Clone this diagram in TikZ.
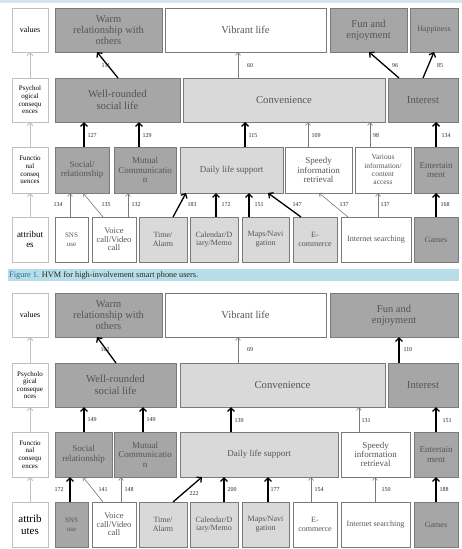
\documentclass[tikz,border=0pt]{standalone}
\usepackage{fontspec}
\setmainfont{Liberation Serif}
\usetikzlibrary{arrows.meta}
\definecolor{dkf}{HTML}{A6A6A6}
\definecolor{ltf}{HTML}{D9D9D9}
\definecolor{bdc}{HTML}{7A7A7A}
\definecolor{txc}{HTML}{555555}
\definecolor{lbc}{HTML}{C0C0C0}
\definecolor{capc}{HTML}{B7DDE8}
\definecolor{capblue}{HTML}{1F6E9A}
\definecolor{stripc}{HTML}{D3E6EC}
\newcommand\mybox[7]{\node[boxst,#6,anchor=north west,minimum width={(#4-#2)*1pt},minimum height={(#5-#3)*1pt}] (#1) at (#2,#3) {#7};}
\newcommand\conn[5]{\draw[#1] ([xshift=#3pt]#2.north west) -- ([xshift=#5pt]#4.south west);}
\newcommand\lbl[4]{\node[numst] (#1) at (#2,#3) {#4};}
\tikzset{
  boxst/.style={draw=bdc,line width=0.8pt,inner sep=1pt,outer sep=0pt,align=center,text=txc,font=\fontsize{10.5}{11}\selectfont},
  dk/.style={fill=dkf},
  lt/.style={fill=ltf},
  wh/.style={fill=white},
  side/.style={draw=lbc,fill=white,text=black},
  fa/.style={font=\fontsize{10.7}{12}\selectfont},
  fb/.style={font=\fontsize{9}{9.4}\selectfont},
  fc/.style={font=\fontsize{8}{8.8}\selectfont},
  fv/.style={font=\fontsize{8.5}{8.5}\selectfont},
  fd/.style={font=\fontsize{7.5}{8.3}\selectfont},
  fe/.style={font=\fontsize{7}{7.6}\selectfont},
  fs/.style={font=\fontsize{7}{8.5}\selectfont},
  thk/.style={black,line width=1.3pt,-{Straight Barb[length=3.5pt,width=7pt]}},
  thn/.style={bdc,line width=0.6pt,-{Straight Barb[length=3pt,width=5pt]}},
  sidear/.style={lbc,line width=0.9pt,-{Straight Barb[length=3pt,width=6pt]}},
  numst/.style={font=\fontsize{6}{7}\selectfont,text=black!85,inner sep=0pt}
}
\begin{document}
\begin{tikzpicture}[x=1pt,y=-1pt]
\useasboundingbox (0,0) rectangle (462,549);
\fill[stripc] (0,0) rectangle (462,3);
% ---------------- top panel ----------------
\mybox{Av}{12}{8}{48}{52}{side,fc}{values}
\mybox{Awarm}{55}{8}{162}{52}{dk}{Warm\\relationship with\\others}
\mybox{Avib}{165}{8}{326}{52}{wh}{Vibrant life}
\mybox{Afun}{330}{8}{407}{52}{dk}{Fun and\\enjoyment}
\mybox{Ahap}{410}{8}{458}{52}{dk,fc}{Happiness}
\mybox{Ap}{12}{78}{48}{122}{side,fe}{Psychol\\ogical\\consequ\\ences}
\mybox{Awr}{55}{78}{180}{122}{dk,fa}{Well-rounded\\social life}
\mybox{Aconv}{183}{78}{385}{122}{lt,fa}{Convenience}
\mybox{Aint}{388}{78}{458}{122}{dk,fa}{Interest}
\mybox{Af}{12}{147}{48}{193}{side,fe}{Functio\\nal\\conseq\\uences}
\mybox{Asoc}{55}{147}{109}{193}{dk,fb}{Social/\\relationship}
\mybox{Amut}{114}{147}{176}{193}{dk,fb}{Mutual\\Communicatio\\n}
\mybox{Adaily}{180}{147}{283}{193}{lt,fb}{Daily life support}
\mybox{Aspeed}{285}{147}{352}{193}{wh,fb}{Speedy\\information\\retrieval}
\mybox{Avar}{355}{147}{411}{193}{wh,fd}{Various\\information/\\content\\access}
\mybox{Aent}{414}{147}{458}{193}{dk,fb}{Entertain\\ment}
\mybox{Aa}{12}{217}{48}{262}{side,font=\fontsize{9}{10}\selectfont}{attribut\\es}
\mybox{Asns}{55}{217}{88}{262}{wh,fs}{SNS\\use}
\mybox{Avoice}{92}{217}{136}{262}{wh,fv}{Voice\\call/Video\\call}
\mybox{Atime}{139}{217}{187}{262}{lt,fc}{Time/\\Alarm}
\mybox{Acal}{190}{217}{238}{262}{lt,fc}{Calendar/D\\iary/Memo}
\mybox{Amaps}{242}{217}{289}{262}{lt,fc}{Maps/Navi\\gation}
\mybox{Aecom}{293}{217}{337}{262}{lt,fc}{E-\\commerce}
\mybox{Aint2}{341}{217}{411}{262}{wh,fc}{Internet searching}
\mybox{Agames}{414}{217}{458}{262}{dk,fc}{Games}
% side arrows
\draw[sidear] (Ap.north) -- (Av.south);
\draw[sidear] (Af.north) -- (Ap.south);
\draw[sidear] (Aa.north) -- (Af.south);
% arrows
\conn{thk}{Awr}{63}{Awarm}{42}
\conn{thn}{Aconv}{55}{Avib}{73}
\conn{thk}{Aint}{11}{Afun}{39}
\conn{thk}{Aint}{35}{Ahap}{24}
\conn{thk}{Asoc}{29}{Awr}{29}
\conn{thk}{Amut}{25}{Awr}{84}
\conn{thk}{Adaily}{65}{Aconv}{62}
\conn{thn}{Aspeed}{23}{Aconv}{125}
\conn{thn}{Avar}{15}{Aconv}{187}
\conn{thk}{Aent}{22}{Aint}{48}
\conn{thn}{Asns}{15}{Asoc}{15}
\conn{thn}{Avoice}{11}{Asoc}{28}
\conn{thn}{Avoice}{36}{Amut}{14}
\conn{thk}{Atime}{34}{Adaily}{6}
\conn{thk}{Acal}{26}{Adaily}{36}
\conn{thk}{Amaps}{7}{Adaily}{69}
\conn{thk}{Aecom}{8}{Adaily}{88}
\conn{thn}{Aint2}{7}{Aspeed}{34}
\conn{thn}{Aint2}{37}{Avar}{23}
\conn{thk}{Agames}{22}{Aent}{22}
% labels
\lbl{a1}{106}{66}{111}
\lbl{a2}{250}{66}{60}
\lbl{a3}{395}{66}{96}
\lbl{a4}{440}{66}{85}
\lbl{a5}{92}{136}{127}
\lbl{a6}{147}{136}{129}
\lbl{a7}{253}{136}{115}
\lbl{a8}{316}{136}{109}
\lbl{a9}{376}{136}{98}
\lbl{a10}{446}{136}{134}
\lbl{a11}{58}{205}{134}
\lbl{a12}{106}{205}{135}
\lbl{a13}{136}{205}{132}
\lbl{a14}{192}{205}{183}
\lbl{a15}{226}{205}{172}
\lbl{a16}{259}{205}{151}
\lbl{a17}{297}{205}{147}
\lbl{a18}{344}{205}{137}
\lbl{a19}{385}{205}{137}
\lbl{a20}{445}{205}{168}
% ---------------- caption ----------------
\fill[capc] (8,269) rectangle (459,281);
\node[anchor=west,inner sep=0pt,font=\fontsize{8.3}{9}\selectfont] (cap) at (9,275.3) {\textcolor{capblue}{Figure 1.} \textcolor{black!85}{HVM for high-involvement smart phone users.}};
% ---------------- bottom panel ----------------
\mybox{Bv}{12}{293}{48}{337}{side,fc}{values}
\mybox{Bwarm}{55}{293}{162}{337}{dk}{Warm\\relationship with\\others}
\mybox{Bvib}{165}{293}{326}{337}{wh}{Vibrant life}
\mybox{Bfun}{330}{293}{458}{337}{dk}{Fun and\\enjoyment}
\mybox{Bp}{12}{363}{48}{407}{side,fe}{Psycholo\\gical\\conseque\\nces}
\mybox{Bwr}{55}{363}{176}{407}{dk,fa}{Well-rounded\\social life}
\mybox{Bconv}{180}{363}{385}{407}{lt,fa}{Convenience}
\mybox{Bint}{388}{363}{458}{407}{dk,fa}{Interest}
\mybox{Bf}{12}{432}{48}{477}{side,fe}{Functio\\nal\\consequ\\ences}
\mybox{Bsoc}{55}{432}{112}{477}{dk,fb}{Social\\relationship}
\mybox{Bmut}{114}{432}{176}{477}{dk,fb}{Mutual\\Communicatio\\n}
\mybox{Bdaily}{180}{432}{338}{477}{lt,fb}{Daily life support}
\mybox{Bspeed}{341}{432}{410}{477}{wh,fb}{Speedy\\information\\retrieval}
\mybox{Bent}{414}{432}{458}{477}{dk,fb}{Entertain\\ment}
\mybox{Ba}{12}{502}{48}{547}{side,font=\fontsize{11}{12.5}\selectfont}{attrib\\utes}
\mybox{Bsns}{55}{502}{88}{547}{dk,fs}{SNS\\use}
\mybox{Bvoice}{92}{502}{136}{547}{wh,fv}{Voice\\call/Video\\call}
\mybox{Btime}{139}{502}{187}{547}{lt,fc}{Time/\\Alarm}
\mybox{Bcal}{190}{502}{238}{547}{lt,fc}{Calendar/D\\iary/Memo}
\mybox{Bmaps}{242}{502}{289}{547}{lt,fc}{Maps/Navi\\gation}
\mybox{Becom}{293}{502}{337}{547}{wh,fc}{E-\\commerce}
\mybox{Bint2}{341}{502}{410}{547}{wh,fc}{Internet searching}
\mybox{Bgames}{414}{502}{458}{547}{dk,fc}{Games}
\draw[sidear] (Bp.north) -- (Bv.south);
\draw[sidear] (Bf.north) -- (Bp.south);
\draw[sidear] (Ba.north) -- (Bf.south);
\conn{thk}{Bwr}{61}{Bwarm}{42}
\conn{thn}{Bconv}{58}{Bvib}{73}
\conn{thk}{Bint}{11}{Bfun}{69}
\conn{thk}{Bsoc}{29}{Bwr}{29}
\conn{thk}{Bmut}{29}{Bwr}{88}
\conn{thk}{Bdaily}{51}{Bconv}{51}
\conn{thn}{Bspeed}{18}{Bconv}{179}
\conn{thk}{Bent}{22}{Bint}{48}
\conn{thk}{Bsns}{15}{Bsoc}{15}
\conn{thn}{Bvoice}{11}{Bsoc}{28}
\conn{thn}{Bvoice}{29}{Bmut}{7}
\conn{thk}{Btime}{34}{Bdaily}{22}
\conn{thk}{Bcal}{34}{Bdaily}{44}
\conn{thk}{Bmaps}{26}{Bdaily}{88}
\conn{thn}{Becom}{18}{Bdaily}{131}
\conn{thn}{Bint2}{34}{Bspeed}{34}
\conn{thk}{Bgames}{22}{Bent}{22}
\lbl{b1}{105}{350}{102}
\lbl{b2}{250}{350}{69}
\lbl{b3}{408}{350}{110}
\lbl{b4}{92}{420}{149}
\lbl{b5}{151}{420}{149}
\lbl{b6}{239}{421}{139}
\lbl{b7}{366}{421}{131}
\lbl{b8}{447}{421}{151}
\lbl{b9}{59}{490}{172}
\lbl{b10}{103}{490}{141}
\lbl{b11}{129}{490}{148}
\lbl{b12}{194}{494}{222}
\lbl{b13}{232}{490}{200}
\lbl{b14}{275}{490}{177}
\lbl{b15}{319}{490}{154}
\lbl{b16}{386}{490}{150}
\lbl{b17}{444}{490}{188}
\end{tikzpicture}
\end{document}
